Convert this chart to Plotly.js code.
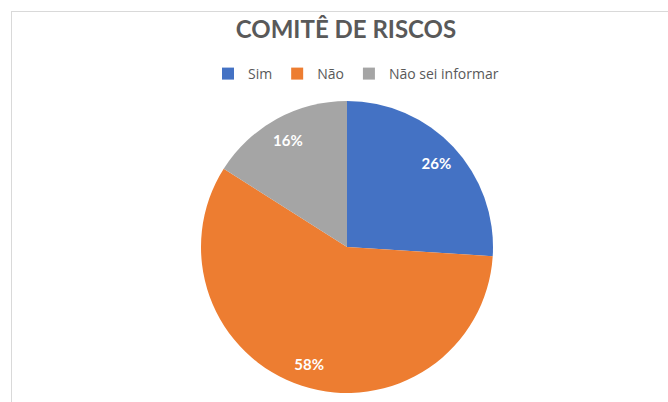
<!DOCTYPE html>
<html>
<head>
<meta charset="utf-8">
<script src="https://cdn.plot.ly/plotly-3.0.1.min.js"></script>
<style>
  html, body { margin: 0; padding: 0; background: #fff; }
  #wrap { position: relative; width: 668px; height: 402px; overflow: hidden; }
  #frame { position: absolute; left: 11px; top: 11px; width: 700px; height: 500px;
           border-left: 1px solid #d9d9d9; border-top: 1px solid #d9d9d9; }
  #chart { position: absolute; left: 0; top: 0; width: 668px; height: 402px; }
</style>
</head>
<body>
<div id="wrap">
  <div id="frame"></div>
  <div id="chart"></div>
</div>
<script>
const categories = ["Sim", "Não", "Não sei informar"];
const values = [26, 58, 16];
const colors = ["#4472C4", "#ED7D31", "#A5A5A5"];
const chartTitle = "COMITÊ DE RISCOS";

const slices = {
  type: "pie",
  labels: categories,
  values: values,
  sort: false,
  direction: "clockwise",
  rotation: 0,
  marker: { colors: colors, line: { color: "#ffffff", width: 0 } },
  textinfo: "none",
  hoverinfo: "label+percent",
  showlegend: true
};

// transparent ring used only to place the percentage labels near the rim
const labelRing = {
  type: "pie",
  labels: categories,
  values: values,
  sort: false,
  direction: "clockwise",
  rotation: 0,
  hole: 0.68,
  marker: { colors: ["rgba(0,0,0,0)", "rgba(0,0,0,0)", "rgba(0,0,0,0)"], line: { width: 0 } },
  textinfo: "percent",
  texttemplate: "%{percent:.0%}",
  textposition: "inside",
  insidetextorientation: "horizontal",
  textfont: { family: "Lato, 'Open Sans', sans-serif", size: 15, color: "#ffffff", weight: "bold" },
  hoverinfo: "skip",
  showlegend: false
};

const layout = {
  width: 668,
  height: 402,
  paper_bgcolor: "rgba(0,0,0,0)",
  plot_bgcolor: "rgba(0,0,0,0)",
  margin: { l: 201, r: 175, t: 101, b: 9 },
  title: {
    text: chartTitle,
    font: { family: "Lato, 'Open Sans', sans-serif", size: 24, color: "#595959", weight: "bold" },
    x: 346 / 668, xref: "container", xanchor: "center",
    y: 1 - 30 / 402, yref: "container", yanchor: "middle"
  },
  legend: {
    orientation: "h",
    xref: "container", yref: "container",
    x: 356 / 668, xanchor: "center",
    y: 1 - 74 / 402, yanchor: "middle",
    font: { family: "'Open Sans', sans-serif", size: 14, color: "#595959" },
    itemwidth: 30,
    traceorder: "normal"
  },
  showlegend: true
};

Plotly.newPlot("chart", [slices, labelRing], layout, { displayModeBar: false, staticPlot: true });
</script>
</body>
</html>
